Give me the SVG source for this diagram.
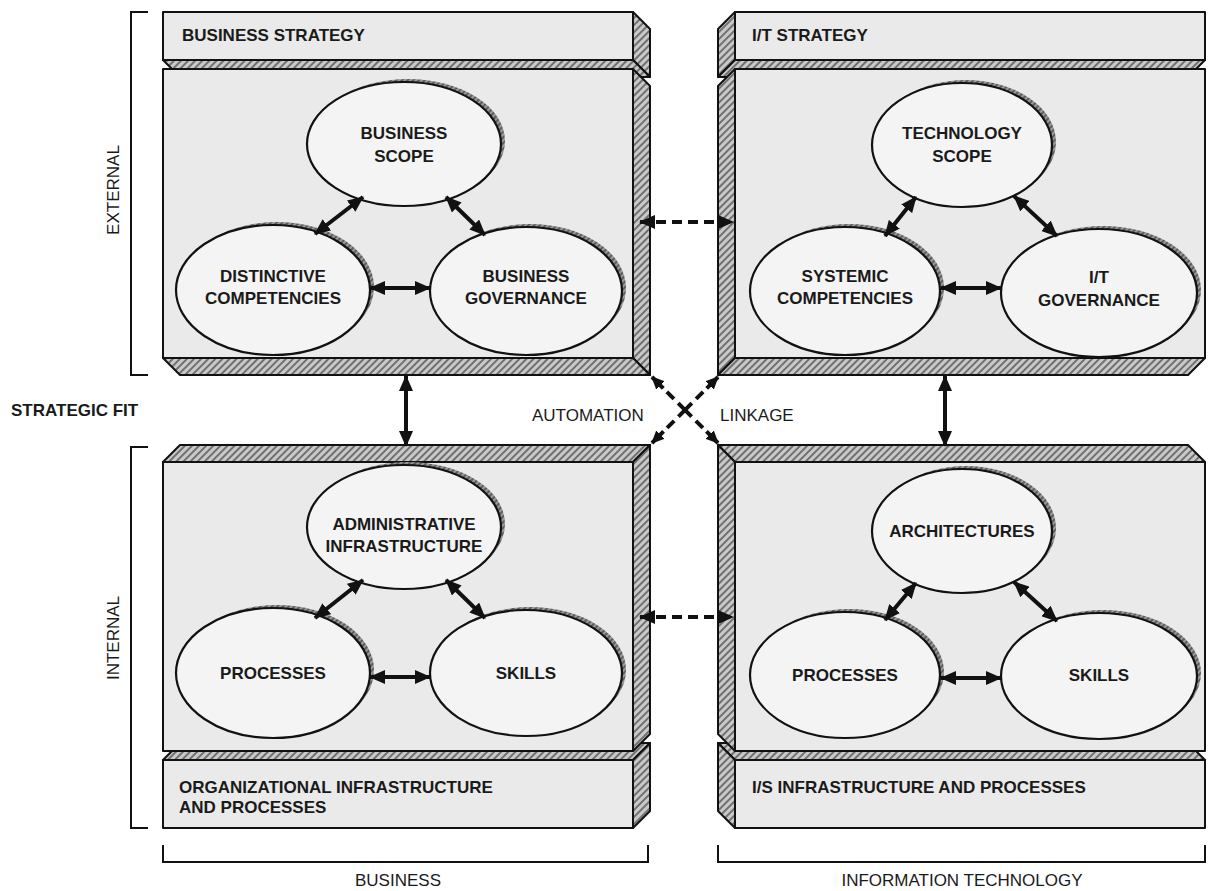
<svg xmlns="http://www.w3.org/2000/svg" width="1214" height="891" viewBox="0 0 1214 891">
  <defs>
    <!-- diagonal hatching for the bevelled side faces -->
    <pattern id="hatch" width="5" height="5" patternUnits="userSpaceOnUse" patternTransform="rotate(45)">
      <rect width="5" height="5" fill="#c9c9c9"/>
      <line x1="1" y1="0" x2="1" y2="5" stroke="#666" stroke-width="1.8"/>
    </pattern>
    <pattern id="hatchDark" width="4" height="4" patternUnits="userSpaceOnUse" patternTransform="rotate(45)">
      <rect width="4" height="4" fill="#9a9a9a"/>
      <line x1="1" y1="0" x2="1" y2="4" stroke="#4a4a4a" stroke-width="1.5"/>
    </pattern>
    <marker id="head" viewBox="0 0 16 14" refX="15" refY="7" markerWidth="16" markerHeight="14" markerUnits="userSpaceOnUse" orient="auto-start-reverse">
      <path d="M0,0 L16,7 L0,14 z" fill="#111"/>
    </marker>
    <marker id="headSmall" viewBox="0 0 13 12" refX="12" refY="6" markerWidth="13" markerHeight="12" markerUnits="userSpaceOnUse" orient="auto-start-reverse">
      <path d="M0,0 L13,6 L0,12 z" fill="#111"/>
    </marker>
    <style>
      .front { fill: #eaeaea; stroke: #111; stroke-width: 2; stroke-linejoin: round; }
      .face { fill: url(#hatch); stroke: #111; stroke-width: 2; stroke-linejoin: round; }
      .halo { fill: url(#hatchDark); }
      .oval { fill: #f4f4f4; stroke: #111; stroke-width: 2.2; }
      .t { font-family: "Liberation Sans", Arial, Helvetica, sans-serif; font-size: 17px; font-weight: bold; fill: #1a1a1a; }
      .mid { text-anchor: middle; }
      .plain { font-weight: normal; }
      .link { fill: none; stroke: #111; stroke-width: 4; marker-start: url(#head); marker-end: url(#head); }
      .dashed { stroke-dasharray: 10 6; }
      .cross { fill: none; stroke: #111; stroke-width: 4; stroke-dasharray: 16 5 10 6 19 6 10 5 17; marker-start: url(#headSmall); marker-end: url(#headSmall); }
      .bracket { fill: none; stroke: #111; stroke-width: 2; }
    </style>
  </defs>

  <rect width="1214" height="891" fill="#ffffff"/>

  <!-- Business strategy block (upper left), extruded down-right -->
  <g id="business-strategy">
    <rect class="front" x="163" y="12" width="470" height="48"/>
    <polygon class="face" points="633,12 650,29 650,77 633,60"/>
    <polygon class="face" points="163,60 633,60 650,77 180,77"/>
    <rect class="front" x="163" y="69" width="470" height="289"/>
    <polygon class="face" points="633,69 650,86 650,375 633,358"/>
    <polygon class="face" points="163,358 633,358 650,375 180,375"/>
    <text class="t" x="182" y="41">BUSINESS STRATEGY</text>
  </g>

  <!-- I/T strategy block (upper right), extruded down-left -->
  <g id="it-strategy">
    <rect class="front" x="735" y="12" width="470" height="48"/>
    <polygon class="face" points="735,12 718,29 718,77 735,60"/>
    <polygon class="face" points="735,60 1205,60 1188,77 718,77"/>
    <rect class="front" x="735" y="69" width="470" height="289"/>
    <polygon class="face" points="735,69 718,86 718,375 735,358"/>
    <polygon class="face" points="735,358 1205,358 1188,375 718,375"/>
    <text class="t" x="752" y="41">I/T STRATEGY</text>
  </g>

  <!-- Organizational infrastructure block (lower left), extruded up-right -->
  <g id="org-infrastructure">
    <polygon class="face" points="163,760 633,760 650,743 180,743"/>
    <rect class="front" x="163" y="760" width="470" height="68"/>
    <polygon class="face" points="633,760 650,743 650,811 633,828"/>
    <polygon class="face" points="163,462 633,462 650,445 180,445"/>
    <rect class="front" x="163" y="462" width="470" height="289"/>
    <polygon class="face" points="633,462 650,445 650,734 633,751"/>
    <text class="t" x="179" y="793">ORGANIZATIONAL INFRASTRUCTURE</text>
    <text class="t" x="179" y="813">AND PROCESSES</text>
  </g>

  <!-- I/S infrastructure block (lower right), extruded up-left -->
  <g id="is-infrastructure">
    <polygon class="face" points="735,760 1205,760 1188,743 718,743"/>
    <rect class="front" x="735" y="760" width="470" height="68"/>
    <polygon class="face" points="735,760 718,743 718,811 735,828"/>
    <polygon class="face" points="735,462 1205,462 1188,445 718,445"/>
    <rect class="front" x="735" y="462" width="470" height="289"/>
    <polygon class="face" points="735,462 718,445 718,734 735,751"/>
    <text class="t" x="752" y="793">I/S INFRASTRUCTURE AND PROCESSES</text>
  </g>

  <!-- ovals: business strategy -->
  <g id="business-scope">
    <ellipse class="halo" cx="408" cy="141" rx="97" ry="62"/>
    <ellipse class="oval" cx="404" cy="144" rx="97" ry="62"/>
    <text class="t mid" x="404" y="139">BUSINESS</text>
    <text class="t mid" x="404" y="162">SCOPE</text>
  </g>
  <g id="distinctive-competencies">
    <ellipse class="halo" cx="277" cy="287" rx="97" ry="65"/>
    <ellipse class="oval" cx="273" cy="290" rx="97" ry="65"/>
    <text class="t mid" x="273" y="282">DISTINCTIVE</text>
    <text class="t mid" x="273" y="304">COMPETENCIES</text>
  </g>
  <g id="business-governance">
    <ellipse class="halo" cx="530" cy="288" rx="96" ry="64"/>
    <ellipse class="oval" cx="526" cy="291" rx="96" ry="64"/>
    <text class="t mid" x="526" y="282">BUSINESS</text>
    <text class="t mid" x="526" y="304">GOVERNANCE</text>
  </g>

  <!-- ovals: I/T strategy -->
  <g id="technology-scope">
    <ellipse class="halo" cx="966" cy="142" rx="90" ry="62"/>
    <ellipse class="oval" cx="962" cy="145" rx="90" ry="62"/>
    <text class="t mid" x="962" y="139">TECHNOLOGY</text>
    <text class="t mid" x="962" y="162">SCOPE</text>
  </g>
  <g id="systemic-competencies">
    <ellipse class="halo" cx="849" cy="288" rx="95" ry="64"/>
    <ellipse class="oval" cx="845" cy="291" rx="95" ry="64"/>
    <text class="t mid" x="845" y="282">SYSTEMIC</text>
    <text class="t mid" x="845" y="304">COMPETENCIES</text>
  </g>
  <g id="it-governance">
    <ellipse class="halo" cx="1103" cy="290" rx="98" ry="64"/>
    <ellipse class="oval" cx="1099" cy="293" rx="98" ry="64"/>
    <text class="t mid" x="1099" y="283">I/T</text>
    <text class="t mid" x="1099" y="306">GOVERNANCE</text>
  </g>

  <!-- ovals: organizational infrastructure -->
  <g id="administrative-infrastructure">
    <ellipse class="halo" cx="408" cy="524" rx="97" ry="62"/>
    <ellipse class="oval" cx="404" cy="527" rx="97" ry="62"/>
    <text class="t mid" x="404" y="530">ADMINISTRATIVE</text>
    <text class="t mid" x="404" y="552">INFRASTRUCTURE</text>
  </g>
  <g id="business-processes">
    <ellipse class="halo" cx="277" cy="670" rx="97" ry="65"/>
    <ellipse class="oval" cx="273" cy="673" rx="97" ry="65"/>
    <text class="t mid" x="273" y="679">PROCESSES</text>
  </g>
  <g id="business-skills">
    <ellipse class="halo" cx="530" cy="670" rx="96" ry="63"/>
    <ellipse class="oval" cx="526" cy="673" rx="96" ry="63"/>
    <text class="t mid" x="526" y="679">SKILLS</text>
  </g>

  <!-- ovals: I/S infrastructure -->
  <g id="architectures">
    <ellipse class="halo" cx="966" cy="528" rx="90" ry="62"/>
    <ellipse class="oval" cx="962" cy="531" rx="90" ry="62"/>
    <text class="t mid" x="962" y="537">ARCHITECTURES</text>
  </g>
  <g id="is-processes">
    <ellipse class="halo" cx="849" cy="672" rx="95" ry="63"/>
    <ellipse class="oval" cx="845" cy="675" rx="95" ry="63"/>
    <text class="t mid" x="845" y="681">PROCESSES</text>
  </g>
  <g id="is-skills">
    <ellipse class="halo" cx="1103" cy="673" rx="98" ry="63"/>
    <ellipse class="oval" cx="1099" cy="676" rx="98" ry="63"/>
    <text class="t mid" x="1099" y="681">SKILLS</text>
  </g>

  <!-- side and bottom labels with brackets -->
  <g id="external-label">
    <path class="bracket" d="M148,12 H131 V375 H148"/>
    <text class="t mid plain" transform="translate(119,190) rotate(-90)">EXTERNAL</text>
  </g>
  <g id="internal-label">
    <path class="bracket" d="M148,447 H131 V828 H148"/>
    <text class="t mid plain" transform="translate(119,638) rotate(-90)">INTERNAL</text>
  </g>
  <g id="business-label">
    <path class="bracket" d="M163,845 V862 H648 V845"/>
    <text class="t mid plain" x="398" y="886">BUSINESS</text>
  </g>
  <g id="it-label">
    <path class="bracket" d="M718,845 V862 H1205 V845"/>
    <text class="t mid plain" x="962" y="886">INFORMATION TECHNOLOGY</text>
  </g>
  <g id="strategic-fit-label">
    <text class="t" x="11" y="416">STRATEGIC FIT</text>
  </g>
  <g id="automation-label">
    <text class="t plain" x="532" y="421">AUTOMATION</text>
  </g>
  <g id="linkage-label">
    <text class="t plain" x="720" y="421">LINKAGE</text>
  </g>

  <!-- connectors -->
  <g id="connectors">
    <!-- inside business strategy -->
    <path class="link" d="M363,197 L315,234"/>
    <path class="link" d="M446,197 L485,235"/>
    <path class="link" d="M370,288 L430,288"/>
    <!-- inside I/T strategy -->
    <path class="link" d="M916,197 L885,236"/>
    <path class="link" d="M1014,196 L1057,236"/>
    <path class="link" d="M941,288 L1001,288"/>
    <!-- inside organizational infrastructure -->
    <path class="link" d="M363,580 L315,618"/>
    <path class="link" d="M446,580 L485,618"/>
    <path class="link" d="M370,677 L430,677"/>
    <!-- inside I/S infrastructure -->
    <path class="link" d="M916,583 L885,620"/>
    <path class="link" d="M1014,582 L1057,621"/>
    <path class="link" d="M941,678 L1001,678"/>
    <!-- strategic fit -->
    <path class="link" d="M406,376 L406,446"/>
    <path class="link" d="M945,376 L945,446"/>
    <!-- functional integration -->
    <path class="link dashed" d="M640,222 L733,222"/>
    <path class="link dashed" d="M640,617 L733,617"/>
    <!-- cross-dimension alignment -->
    <path class="cross" d="M652,377 L718,443"/>
    <path class="cross" d="M718,377 L652,443"/>
  </g>
</svg>
